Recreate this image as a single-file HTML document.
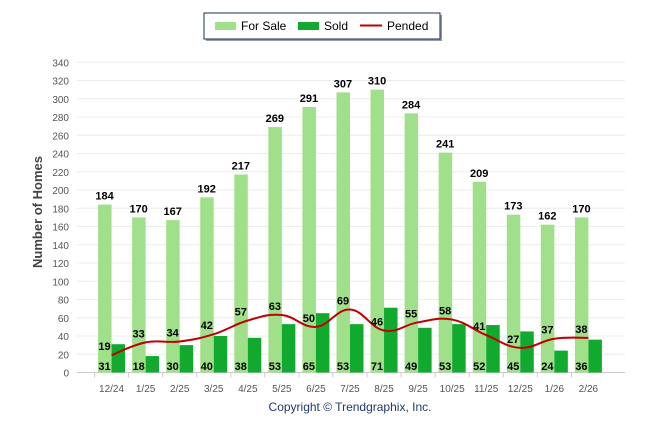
<!DOCTYPE html>
<html><head><meta charset="utf-8"><style>
body{margin:0;background:#fff;font-family:"Liberation Sans",Arial,sans-serif}
svg{display:block}
</style></head><body>
<svg id="c" width="646" height="434" xmlns="http://www.w3.org/2000/svg">
<g>
<rect x="206" y="15" width="236" height="26" fill="#2a3a5a" opacity="0.5"/>
<rect x="204" y="13" width="236" height="26" fill="#fff" stroke="#1f2d4d" stroke-width="1"/>
<g><rect x="215" y="22" width="21" height="8" fill="#a1e08a"/><text x="241" y="30" font-size="12" fill="#000">For Sale</text></g>
<g><rect x="298" y="22" width="21" height="8" fill="#12aa2e"/><text x="324" y="30" font-size="12" fill="#000">Sold</text></g>
<g><line x1="360" y1="25.5" x2="382" y2="25.5" stroke="#c00000" stroke-width="2"/><text x="387" y="30" font-size="12" fill="#000">Pended</text></g>
</g>
<g id="grid"></g><g id="bars"></g><g id="line"></g><g id="labels"></g>
<text x="42" y="212" font-size="13" font-weight="bold" fill="#444" text-anchor="middle" transform="rotate(-90 42 212)">Number of Homes</text>
<text x="350" y="411" font-size="12" fill="#1f3a6a" text-anchor="middle">Copyright © Trendgraphix, Inc.</text>
</svg>
<script>
const categories=["12/24","1/25","2/25","3/25","4/25","5/25","6/25","7/25","8/25","9/25","10/25","11/25","12/25","1/26","2/26"];
const forSale=[184,170,167,192,217,269,291,307,310,284,241,209,173,162,170];
const sold=[31,18,30,40,38,53,65,53,71,49,53,52,45,24,36];
const pended=[19,33,34,42,57,63,50,69,46,55,58,41,27,37,38];
const yTicks=[0,20,40,60,80,100,120,140,160,180,200,220,240,260,280,300,320,340];
const NS="http://www.w3.org/2000/svg";
const x0=77.5,band=34.06,y0=372.5,k=0.9125;
const X=i=>x0+(i+1)*band, Y=v=>y0-v*k;
function el(t,a,p,txt){const e=document.createElementNS(NS,t);for(const n in a)e.setAttribute(n,a[n]);if(txt!=null)e.textContent=txt;p.appendChild(e);return e;}
const G=document.getElementById('grid'),B=document.getElementById('bars'),L=document.getElementById('line'),T=document.getElementById('labels');
yTicks.forEach(v=>{
 const g=el('line',{x1:77,x2:625,y1:Y(v),y2:Y(v),stroke:'#ececec','stroke-width':1},G);
 
 
 const t=el('text',{x:69,y:Y(v)+4,'font-size':10,fill:'#555','text-anchor':'end'},G,v);
 
 
});
el('line',{x1:77,x2:625,y1:y0,y2:y0,stroke:'#ccc'},G);
categories.forEach((c,i)=>{
 const cx=X(i);
 const tm=el('line',{x1:cx-17,x2:cx-17,y1:y0,y2:y0+5,stroke:'#ccc'},G);
 
 
 const t=el('text',{x:cx,y:392,'font-size':10,fill:'#555','text-anchor':'middle'},G,c);
 
 
 const b1=el('rect',{x:cx-13.5,y:Y(forSale[i]),width:13.5,height:forSale[i]*k,fill:'#a1e08a'},B);
 
 
 const b2=el('rect',{x:cx,y:Y(sold[i]),width:13.5,height:sold[i]*k,fill:'#12aa2e'},B);
 
 
 const l1=el('text',{x:cx-7,y:Y(forSale[i])-5,'font-size':11,'font-weight':'bold',fill:'#000','text-anchor':'middle'},T,forSale[i]);
 
 
 const l2=el('text',{x:cx-7,y:370,'font-size':11,'font-weight':'bold',fill:'#000','text-anchor':'middle'},T,sold[i]);
 
 
 const l3=el('text',{x:cx-7,y:Y(pended[i])-5,'font-size':11,'font-weight':'bold',fill:'#000','text-anchor':'middle'},T,pended[i]);
 
 
});
const pts=pended.map((v,i)=>[X(i),Y(v)]);
let d=`M${pts[0][0]},${pts[0][1]}`;
for(let i=0;i<pts.length-1;i++){
 const p0=pts[Math.max(0,i-1)],p1=pts[i],p2=pts[i+1],p3=pts[Math.min(pts.length-1,i+2)];
 const t=0.2;
 d+=` C${p1[0]+(p2[0]-p0[0])*t},${p1[1]+(p2[1]-p0[1])*t} ${p2[0]-(p3[0]-p1[0])*t},${p2[1]-(p3[1]-p1[1])*t} ${p2[0]},${p2[1]}`;
}
const pl=el('path',{d:d,fill:'none',stroke:'#c00000','stroke-width':2},L);


</script>
</body></html>
